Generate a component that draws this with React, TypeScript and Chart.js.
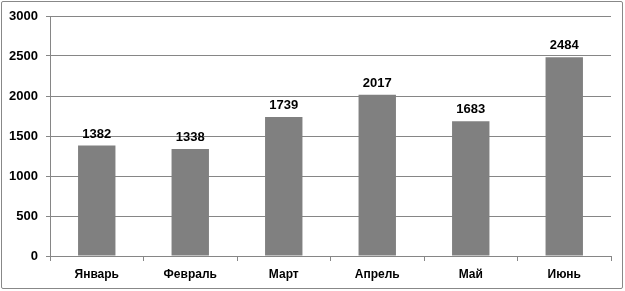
import React, { useEffect, useRef } from "react";
import { Chart, registerables } from "chart.js";

Chart.register(...registerables);

const categories = ["Январь", "Февраль", "Март", "Апрель", "Май", "Июнь"];
const values = [1382, 1338, 1739, 2017, 1683, 2484];
const yTicks = [0, 500, 1000, 1500, 2000, 2500, 3000];

const FONT = "'Liberation Sans', Arial, sans-serif";

const labelPlugin = {
  id: "barLabels",
  afterDatasetsDraw(chart: any) {
    const ctx = chart.ctx;
    const meta = chart.getDatasetMeta(0);
    ctx.save();
    ctx.font = `bold 13px ${FONT}`;
    ctx.fillStyle = "#000";
    ctx.textAlign = "center";
    ctx.textBaseline = "bottom";
    meta.data.forEach((el: any, i: number) => {
      ctx.fillText(String(values[i]), el.x, el.y - 5);
    });
    ctx.restore();
  },
};

export default function App() {
  const ref = useRef<HTMLCanvasElement>(null);
  useEffect(() => {
    document.body.style.margin = "0";
    const chart = new Chart(ref.current!, {
      type: "bar",
      data: {
        labels: categories,
        datasets: [
          {
            data: values,
            backgroundColor: "#808080",
            borderWidth: 0,
            barPercentage: 0.4,
            categoryPercentage: 1,
          },
        ],
      },
      options: {
        responsive: false,
        animation: false,
        layout: { padding: { left: 0, right: 14, top: 16, bottom: 0 } },
        plugins: { legend: { display: false }, tooltip: { enabled: false } },
        scales: {
          x: {
            grid: {
              drawOnChartArea: false,
              drawTicks: true,
              tickLength: 5,
              color: "#868686",
              offset: true,
            },
            border: { color: "#868686" },
            ticks: {
              color: "#000",
              font: { family: FONT, size: 12, weight: "bold" },
              padding: 6,
            },
            afterFit(scale: any) {
              scale.height = 35;
            },
          },
          y: {
            min: 0,
            max: 3000,
            afterBuildTicks(scale: any) {
              scale.ticks = yTicks.map((v) => ({ value: v }));
            },
            grid: { color: "#868686", tickLength: 4 },
            border: { color: "#868686" },
            ticks: {
              color: "#000",
              font: { family: FONT, size: 13, weight: "bold" },
              padding: 8,
              callback: (v: any) => String(v),
            },
            afterFit(scale: any) {
              scale.width = 50;
            },
          },
        },
      },
      plugins: [labelPlugin],
    });
    return () => chart.destroy();
  }, []);
  return (
    <div
      style={{
        position: "relative",
        width: 625,
        height: 291,
        background: "#fff",
      }}
    >
      <canvas ref={ref} width={625} height={291} style={{ display: "block" }} />
      <div
        style={{
          position: "absolute",
          left: 1,
          top: 1,
          width: 620,
          height: 286,
          border: "1px solid #888",
          borderRadius: 2,
          pointerEvents: "none",
        }}
      />
    </div>
  );
}
